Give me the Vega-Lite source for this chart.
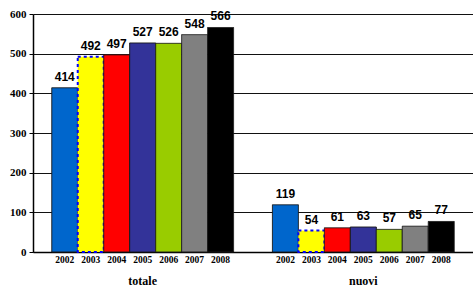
{
  "$schema": "https://vega.github.io/schema/vega-lite/v6.json",
  "width": 440,
  "height": 238,
  "autosize": {"type": "none"},
  "padding": {"left": 33, "top": 14, "right": 0, "bottom": 37},
  "background": "white",
  "data": {
    "values": [
      {"group": "totale", "year": "2002", "value": 414},
      {"group": "totale", "year": "2003", "value": 492},
      {"group": "totale", "year": "2004", "value": 497},
      {"group": "totale", "year": "2005", "value": 527},
      {"group": "totale", "year": "2006", "value": 526},
      {"group": "totale", "year": "2007", "value": 548},
      {"group": "totale", "year": "2008", "value": 566},
      {"group": "nuovi", "year": "2002", "value": 119},
      {"group": "nuovi", "year": "2003", "value": 54},
      {"group": "nuovi", "year": "2004", "value": 61},
      {"group": "nuovi", "year": "2005", "value": 63},
      {"group": "nuovi", "year": "2006", "value": 57},
      {"group": "nuovi", "year": "2007", "value": 65},
      {"group": "nuovi", "year": "2008", "value": 77}
    ]
  },
  "config": {
    "view": {"stroke": null},
    "axis": {"labelFont": "Liberation Serif", "labelFontWeight": "bold", "labelColor": "#000"}
  },
  "encoding": {
    "x": {
      "field": "group",
      "type": "nominal",
      "sort": ["totale", "nuovi"],
      "scale": {"paddingInner": 0.176, "paddingOuter": 0.085},
      "axis": {
        "title": null,
        "labelAngle": 0,
        "labelFontSize": 12,
        "labelPadding": 23,
        "ticks": false,
        "domainColor": "#000",
        "domainWidth": 1.5
      }
    },
    "xOffset": {
      "field": "year",
      "type": "nominal",
      "scale": {"paddingInner": 0, "paddingOuter": 0}
    },
    "y": {
      "field": "value",
      "type": "quantitative",
      "scale": {"domain": [0, 600], "nice": false},
      "axis": {
        "title": null,
        "tickCount": 7,
        "tickMinStep": 100,
        "labelFontSize": 11,
        "tickSize": 4,
        "tickColor": "#000",
        "labelPadding": 3,
        "domainColor": "#000",
        "domainWidth": 1.5,
        "grid": true,
        "gridColor": "#111",
        "gridWidth": 1,
        "labelOverlap": false
      }
    }
  },
  "layer": [
    {
      "mark": {"type": "bar", "strokeWidth": 1},
      "encoding": {
        "color": {
          "field": "year",
          "type": "nominal",
          "scale": {
            "domain": ["2002", "2003", "2004", "2005", "2006", "2007", "2008"],
            "range": ["#0066CC", "#FFFF00", "#FF0000", "#333399", "#99CC00", "#808080", "#000000"]
          },
          "legend": null
        },
        "stroke": {
          "condition": {"test": "datum.year == '2003'", "value": "#0000FF"},
          "value": "#1a1a1a"
        },
        "strokeDash": {
          "condition": {"test": "datum.year == '2003'", "value": [3, 3]},
          "value": [1, 0]
        },
        "strokeWidth": {
          "condition": {"test": "datum.year == '2003'", "value": 2},
          "value": 1
        }
      }
    },
    {
      "mark": {"type": "text", "baseline": "bottom", "dy": -4, "font": "Liberation Sans", "fontWeight": "bold", "fontSize": 12, "color": "#000"},
      "encoding": {
        "text": {"field": "value", "type": "quantitative"}
      }
    },
    {
      "mark": {"type": "text", "baseline": "top", "dy": 3, "font": "Liberation Serif", "fontWeight": "bold", "fontSize": 9.5, "color": "#000"},
      "encoding": {
        "y": {"datum": 0, "type": "quantitative"},
        "text": {"field": "year", "type": "nominal"}
      }
    }
  ]
}
